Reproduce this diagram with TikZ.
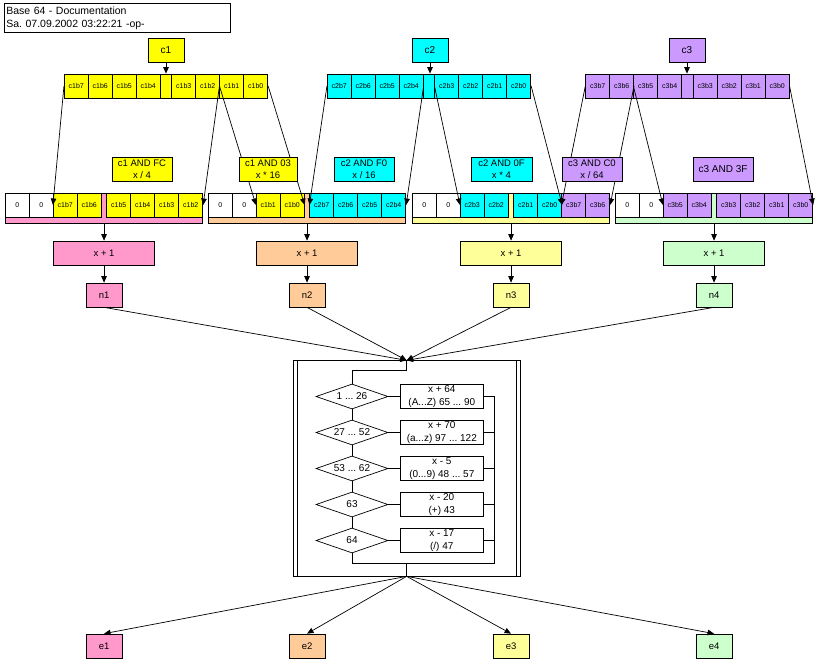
\documentclass[tikz,border=0pt]{standalone}
\usepackage{fontspec}
\setmainfont{Liberation Sans}
\usetikzlibrary{shapes.geometric,arrows.meta}
\definecolor{cyel}{HTML}{FFFF00}
\definecolor{ccya}{HTML}{00FFFF}
\definecolor{cpur}{HTML}{CC99FF}
\definecolor{cpink}{HTML}{FF99CC}
\definecolor{corange}{HTML}{FFCC99}
\definecolor{clyel}{HTML}{FFFF99}
\definecolor{clgreen}{HTML}{CCFFCC}
\frenchspacing
\begin{document}
\begin{tikzpicture}[x=1pt,y=-1pt,line width=0.7pt,
  box/.style={draw,inner sep=0pt,align=center,font=\fontsize{9.5}{11.5}\selectfont},
  cbox/.style={box,minimum width=36pt,minimum height=24pt,font=\fontsize{10}{12}\selectfont},
  lbox/.style={box,minimum height=24pt},
  cell/.style={draw,inner sep=0pt,minimum width=24pt,minimum height=24pt,font=\fontsize{7}{8}\selectfont},
  gapcell/.style={draw,inner sep=0pt,minimum width=11.5pt,minimum height=24pt},
  bar/.style={draw,inner sep=0pt,minimum width=197.5pt,minimum height=30pt},
  plusbox/.style={box,minimum width=101pt,minimum height=24pt},
  nbox/.style={box,minimum width=36pt,minimum height=24pt},
  dia/.style={diamond,draw,inner sep=0pt,minimum width=72pt,minimum height=25pt,fill=white,font=\fontsize{10}{12}\selectfont},
  fbox/.style={draw,inner sep=0pt,minimum width=83pt,minimum height=24pt,align=center,font=\fontsize{10}{12.5}\selectfont},
  arr/.style={-{Triangle[length=6.5pt,width=5.5pt]}}]
\useasboundingbox (0,0) rectangle (823,661);
% title
\node[draw,anchor=north west,text width=222pt,minimum height=29pt,inner xsep=2pt,inner ysep=1pt,align=left,font=\fontsize{10.5}{13}\selectfont] (title) at (4,3) {Base 64 - Documentation\\Sa. 07.09.2002 03:22:21 -op-};
% c boxes
\node[cbox,fill=cyel] (k1) at (166,50) {c1};
\node[cbox,fill=ccya] (k2) at (430,50) {c2};
\node[cbox,fill=cpur] (k3) at (687,50) {c3};
% source rows
\foreach \r/\L/\c/\p in {ra/64.3/cyel/c1, rb/327.3/ccya/c2, rc/585.7/cpur/c3} {
  \node[gapcell,fill=\c] (\r g) at (\L+101.75,86) {};
  \foreach \k [count=\i from 0] in {7,6,5,4,3,2,1,0} {
    \pgfmathsetmacro\xx{\L+12+24*\i+(\i>3)*11.5}
    \node[cell,fill=\c] (\r\i) at (\xx,86) {\p b\k};
  }
}
\draw[arr] (k1.south) -- (k1.south |- rag.north);
\draw[arr] (k2.south) -- (k2.south |- rbg.north);
\draw[arr] (k3.south) -- (k3.south |- rcg.north);
% target groups
\node[bar,fill=cpink] (g1) at (104.05,208) {};
\foreach \t/\c [count=\i from 0] in {0/white,0/white,c1b7/cyel,c1b6/cyel,c1b5/cyel,c1b4/cyel,c1b3/cyel,c1b2/cyel} {
  \pgfmathsetmacro\xx{5.3+12+24*\i+(\i>3)*5.5}
  \node[cell,fill=\c] (p\i) at (\xx,205) {\t};
}
\node[bar,fill=corange] (g2) at (307.05,208) {};
\foreach \t/\c [count=\i from 0] in {0/white,0/white,c1b1/cyel,c1b0/cyel,c2b7/ccya,c2b6/ccya,c2b5/ccya,c2b4/ccya} {
  \pgfmathsetmacro\xx{208.3+12+24*\i+(\i>3)*5.5}
  \node[cell,fill=\c] (q\i) at (\xx,205) {\t};
}
\node[bar,fill=clyel] (g3) at (511.05,208) {};
\foreach \t/\c [count=\i from 0] in {0/white,0/white,c2b3/ccya,c2b2/ccya,c2b1/ccya,c2b0/ccya,c3b7/cpur,c3b6/cpur} {
  \pgfmathsetmacro\xx{412.3+12+24*\i+(\i>3)*5.5}
  \node[cell,fill=\c] (u\i) at (\xx,205) {\t};
}
\node[bar,fill=clgreen] (g4) at (714.05,208) {};
\foreach \t/\c [count=\i from 0] in {0/white,0/white,c3b5/cpur,c3b4/cpur,c3b3/cpur,c3b2/cpur,c3b1/cpur,c3b0/cpur} {
  \pgfmathsetmacro\xx{615.3+12+24*\i+(\i>3)*5.5}
  \node[cell,fill=\c] (s\i) at (\xx,205) {\t};
}
% bit connectors
\draw[arr] (ra0.west) -- (p2.west);
\draw[arr] (ra6.west) -- (p7.east);
\draw[arr] (ra6.west) -- (q2.west);
\draw[arr] (ra7.east) -- (q3.east);
\draw[arr] (rb0.west) -- (q4.west);
\draw[arr] (rb3.east) -- (q7.east);
\draw[arr] (rb4.west) -- (u2.west);
\draw[arr] (rb7.east) -- (u5.east);
\draw[arr] (rc0.west) -- (u6.west);
\draw[arr] (rc1.east) -- (u7.east);
\draw[arr] (rc2.west) -- (s2.west);
\draw[arr] (rc7.east) -- (s7.east);
% operation labels
\node[lbox,fill=cyel,minimum width=60pt] (l1) at (142,169) {c1 AND FC\\x / 4};
\node[lbox,fill=cyel,minimum width=58pt] (l2) at (268,169) {c1 AND 03\\x * 16};
\node[lbox,fill=ccya,minimum width=60pt] (l3) at (364,169) {c2 AND F0\\x / 16};
\node[lbox,fill=ccya,minimum width=61pt] (l4) at (501.5,169) {c2 AND 0F\\x * 4};
\node[lbox,fill=cpur,minimum width=60pt] (l5) at (592,169) {c3 AND C0\\x / 64};
\node[lbox,fill=cpur,minimum width=60pt,font=\fontsize{10}{12}\selectfont] (l6) at (723,169) {c3 AND 3F};
% x+1 and n
\node[plusbox,fill=cpink] (xa) at (104.05,253) {x + 1};
\node[plusbox,fill=corange] (xb) at (307.05,253) {x + 1};
\node[plusbox,fill=clyel] (xc) at (511.05,253) {x + 1};
\node[plusbox,fill=clgreen] (xd) at (714.05,253) {x + 1};
\node[nbox,fill=cpink] (n1) at (104.05,295) {n1};
\node[nbox,fill=corange] (n2) at (307.05,295) {n2};
\node[nbox,fill=clyel] (n3) at (511.05,295) {n3};
\node[nbox,fill=clgreen] (n4) at (714.05,295) {n4};
\foreach \g/\x/\n in {g1/xa/n1,g2/xb/n2,g3/xc/n3,g4/xd/n4} {
  \draw[arr] (\g.south) -- (\x.north);
  \draw[arr] (\x.south) -- (\n.north);
}
% flowchart frame
\node[draw,inner sep=0pt,minimum width=226.7pt,minimum height=215.3pt] (fc) at (406.65,468.35) {};
\draw ([xshift=4pt]fc.north west) -- ([xshift=4pt]fc.south west);
\draw ([xshift=-4.3pt]fc.north east) -- ([xshift=-4.3pt]fc.south east);
\foreach \n in {n1,n2,n3,n4} \draw[arr] (\n.south) -- (fc.north);
% decisions
\node[dia] (d1) at (352,396.5) {\makebox[0pt]{1 ... 26}};
\node[dia] (d2) at (352,432.5) {\makebox[0pt]{27 ... 52}};
\node[dia] (d3) at (352,468.5) {\makebox[0pt]{53 ... 62}};
\node[dia] (d4) at (352,504.5) {\makebox[0pt]{63}};
\node[dia] (d5) at (352,540.5) {\makebox[0pt]{64}};
\node[fbox] (f1) at (441.8,396.5) {x + 64\\(A...Z) 65 ... 90};
\node[fbox] (f2) at (441.8,432.5) {x + 70\\(a...z) 97 ... 122};
\node[fbox] (f3) at (441.8,468.5) {x - 5\\(0...9) 48 ... 57};
\node[fbox] (f4) at (441.8,504.5) {x - 20\\(+) 43};
\node[fbox] (f5) at (441.8,540.5) {x - 17\\(/) 47};
\coordinate (t1) at (406.65,370.7);
\coordinate (t2) at (352,370.7);
\coordinate (bl) at (352,563.3);
\coordinate (br) at (494.3,563.3);
\draw (fc.north) -- (t1) -- (t2) -- (d1.north);
\draw (d1.south) -- (d2.north);
\draw (d2.south) -- (d3.north);
\draw (d3.south) -- (d4.north);
\draw (d4.south) -- (d5.north);
\draw (d5.south) -- (bl) -- (br) -- (br |- f1.east) -- (f1.east);
\foreach \i in {1,...,5} \draw (d\i.east) -- (f\i.west);
\foreach \i in {2,...,5} \draw (f\i.east) -- (br |- f\i.east);
\draw (fc.south |- bl) -- (fc.south);
% outputs
\node[nbox,fill=cpink] (e1) at (104.05,646) {e1};
\node[nbox,fill=corange] (e2) at (307.05,646) {e2};
\node[nbox,fill=clyel] (e3) at (511.05,646) {e3};
\node[nbox,fill=clgreen] (e4) at (714.05,646) {e4};
\foreach \e in {e1,e2,e3,e4} \draw[arr] (fc.south) -- (\e.north);
\end{tikzpicture}
\end{document}
